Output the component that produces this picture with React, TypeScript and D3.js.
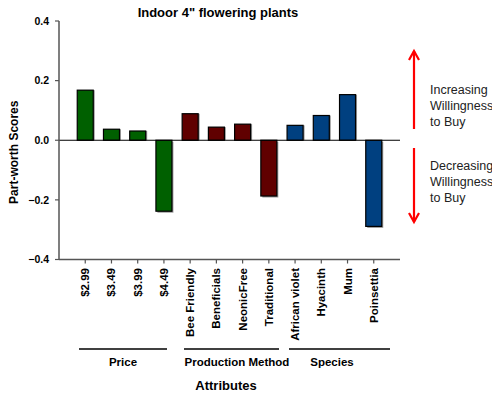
import React from "react";
import * as d3 from "d3";

const categories = ["$2.99", "$3.49", "$3.99", "$4.49", "Bee Friendly", "Beneficials", "NeonicFree", "Traditional", "African violet", "Hyacinth", "Mum", "Poinsettia"];
const values = [0.168, 0.037, 0.031, -0.238, 0.089, 0.044, 0.054, -0.187, 0.05, 0.083, 0.153, -0.289];
const groupOf = ["Price", "Price", "Price", "Price", "Production Method", "Production Method", "Production Method", "Production Method", "Species", "Species", "Species", "Species"];
const groups = ["Price", "Production Method", "Species"];
const groupColors = ["#006000", "#600000", "#004080"];
const yTicks = [0.4, 0.2, 0.0, -0.2, -0.4];

const FONT = "'Liberation Sans', Arial, sans-serif";

export default function App() {
  const W = 492, H = 397;
  const axisLeft = 59, axisRight = 400;
  const y = d3.scaleLinear().domain([-0.4, 0.4]).range([259.5, 21]);
  const x = d3.scaleBand<string>().domain(categories).range([72, 387]).paddingInner(0.39).paddingOuter(0.2);
  const bw = x.bandwidth();
  const color = d3.scaleOrdinal<string, string>().domain(groups).range(groupColors);
  const y0 = y(0);

  // group underline extents
  const groupLines: Record<string, [number, number]> = {
    Price: [79, 167],
    "Production Method": [184, 279],
    Species: [289, 390],
  };
  const groupLabelX: Record<string, number> = {
    Price: 123,
    "Production Method": 237,
    Species: 332,
  };

  const arrowX = 414;
  const head = (xx: number, yy: number, dir: number) =>
    `M${xx - 5},${yy + dir * 9} L${xx},${yy} L${xx + 5},${yy + dir * 9}`;

  return (
    <svg width={W} height={H} style={{ position: "absolute", left: 0, top: 0, background: "#fff" }} fontFamily={FONT}>
      <rect width={W} height={H} fill="#fff" />
      <text x={218} y={17} textAnchor="middle" fontSize={13} fontWeight="bold">Indoor 4" flowering plants</text>

      {/* bars with shadows */}
      {values.map((v, i) => {
        const top = Math.min(y(v), y0);
        const h = Math.abs(y(v) - y0);
        const bx = x(categories[i])!;
        return (
          <g key={i}>
            <rect x={bx + 1.5} y={top + (v < 0 ? 1.5 : 0)} width={bw} height={h} fill="#9a9a9a" />
            <rect x={bx} y={top} width={bw} height={h} fill={color(groupOf[i])} stroke="#000" strokeWidth={1.2} />
          </g>
        );
      })}

      {/* zero line */}
      <line x1={axisLeft} x2={axisRight} y1={y0} y2={y0} stroke="#000" strokeWidth={1.2} />

      {/* y axis */}
      <line x1={axisLeft} x2={axisLeft} y1={y(0.4)} y2={y(-0.4)} stroke="#555" strokeWidth={1.5} />
      {yTicks.map((t) => (
        <g key={t}>
          <line x1={axisLeft - 4} x2={axisLeft} y1={y(t)} y2={y(t)} stroke="#555" strokeWidth={1.2} />
          <text x={49} y={y(t)} dy="0.35em" textAnchor="end" fontSize={10.5} fontWeight="bold">{d3.format(".1f")(t)}</text>
        </g>
      ))}
      <text transform={`translate(18,${(y(0.4) + y(-0.4)) / 2 + 12}) rotate(-90)`} textAnchor="middle" fontSize={12} fontWeight="bold">Part-worth Scores</text>

      {/* x axis */}
      <line x1={axisLeft} x2={axisRight} y1={y(-0.4)} y2={y(-0.4)} stroke="#555" strokeWidth={1.5} />
      {categories.map((c) => {
        const cx = x(c)! + bw / 2;
        return (
          <g key={c}>
            <line x1={cx} x2={cx} y1={y(-0.4)} y2={y(-0.4) + 4} stroke="#555" strokeWidth={1.2} />
            <text transform={`translate(${cx + 4},268) rotate(-90)`} textAnchor="end" fontSize={11.5} fontWeight="bold">{c}</text>
          </g>
        );
      })}

      {/* group lines and labels */}
      {groups.map((g) => (
        <g key={g}>
          <line x1={groupLines[g][0]} x2={groupLines[g][1]} y1={349} y2={349} stroke="#000" strokeWidth={1.3} />
          <text x={groupLabelX[g]} y={366} textAnchor="middle" fontSize={11.5} fontWeight="bold">{g}</text>
        </g>
      ))}
      <text x={226} y={390} textAnchor="middle" fontSize={13} fontWeight="bold">Attributes</text>

      {/* arrows */}
      <g stroke="#ff0000" strokeWidth={2.2} fill="none">
        <line x1={arrowX} x2={arrowX} y1={51} y2={129} />
        <path d={head(arrowX, 51, 1)} />
        <line x1={arrowX} x2={arrowX} y1={148} y2={222} />
        <path d={head(arrowX, 222, -1)} />
      </g>
      <g fontSize={12.5} fill="#222">
        <text x={430} y={94}>Increasing</text>
        <text x={430} y={110}>Willingness</text>
        <text x={430} y={126}>to Buy</text>
        <text x={430} y={170}>Decreasing</text>
        <text x={430} y={186}>Willingness</text>
        <text x={430} y={202}>to Buy</text>
      </g>
    </svg>
  );
}
